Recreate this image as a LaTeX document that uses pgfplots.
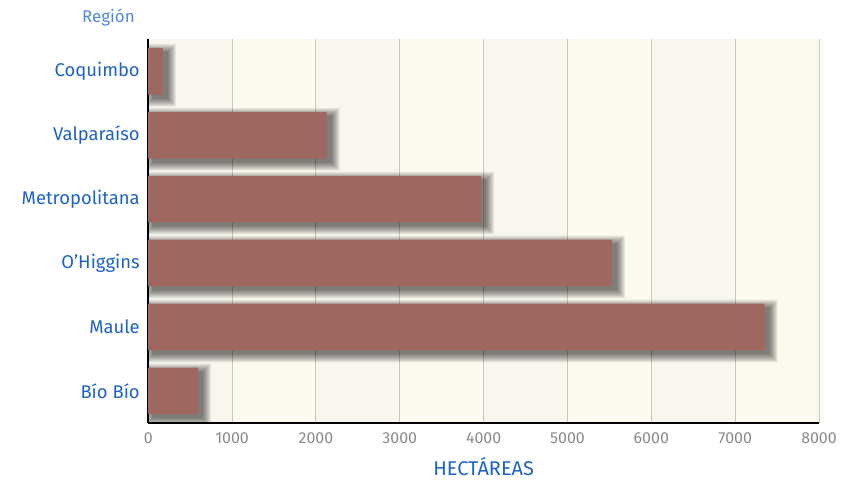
\documentclass[border=0pt]{standalone}
\usepackage{pgfplots}
\usepackage{pgfplotstable}
\pgfplotsset{compat=1.18}
\usepackage{fontspec}
\setmainfont{Fira Sans}
\definecolor{barcol}{HTML}{9E6861}
\definecolor{lblue}{HTML}{1C63C2}
\definecolor{rblue}{HTML}{4C8BD6}
\definecolor{tickgray}{HTML}{8A8A8A}
\definecolor{gridgray}{HTML}{C9C5BF}
\definecolor{bandA}{HTML}{F9F6F0}
\definecolor{bandB}{HTML}{FCF9EE}

% hectareas por region (0 = Coquimbo ... 5 = Bio Bio)
\pgfplotstableread{
i v
0 175
1 2127
2 3969
3 5529
4 7350
5 592
}\hectareas

% soft shadow: one translucent layer, #1 = spread in bp, #2 = same spread in data units
\newcommand{\shadowlayer}[2]{%
  \addplot[forget plot, fill=black, fill opacity=0.07, draw=none,
    bar shift=0pt, bar width=46.7bp+2*#1bp, xshift=5bp-#1bp, yshift=-4bp]
    table[x expr=\thisrow{v}+2*#2, y=i] {\hectareas};
}

\begin{document}
\begin{tikzpicture}
  \begin{axis}[
      set layers,
      scale only axis,
      width=671bp, height=383.7bp,
      xbar,
      xmin=0, xmax=8000,
      ymin=-0.5, ymax=5.5,
      y dir=reverse,
      ytick={0,1,2,3,4,5},
      yticklabels={Coquimbo, Valparaíso, Metropolitana, O'Higgins, Maule, Bío Bío},
      xtick={0,1000,...,8000},
      scaled ticks=false,
      x tick label style={
        /pgf/number format/.cd,
        1000 sep={},
        assume math mode=true,
        /tikz/.cd,
        font=\fontsize{16}{19}\selectfont, text=tickgray, yshift=-6bp},
      y tick label style={font=\fontsize{18.5}{22}\selectfont, text=lblue, xshift=-5bp},
      major tick length=0pt,
      axis x line*=bottom,
      axis y line*=left,
      axis line style={black, line width=1.6bp},
      xmajorgrids,
      major grid style={gridgray, line width=1bp},
      xlabel={HECTÁREAS},
      xlabel style={font=\fontsize{20}{24}\selectfont, text=lblue, yshift=-7bp},
    ]
    \begin{pgfonlayer}{axis background}
      \fill[bandA] (axis cs:0,-0.5) rectangle (axis cs:1000,5.5);
      \fill[bandB] (axis cs:1000,-0.5) rectangle (axis cs:2000,5.5);
      \fill[bandA] (axis cs:2000,-0.5) rectangle (axis cs:3000,5.5);
      \fill[bandB] (axis cs:3000,-0.5) rectangle (axis cs:4000,5.5);
      \fill[bandA] (axis cs:4000,-0.5) rectangle (axis cs:5000,5.5);
      \fill[bandB] (axis cs:5000,-0.5) rectangle (axis cs:6000,5.5);
      \fill[bandA] (axis cs:6000,-0.5) rectangle (axis cs:7000,5.5);
      \fill[bandB] (axis cs:7000,-0.5) rectangle (axis cs:8000,5.5);
    \end{pgfonlayer}
    \shadowlayer{0}{0}
    \shadowlayer{1}{11.9}
    \shadowlayer{2}{23.8}
    \shadowlayer{3}{35.8}
    \shadowlayer{4}{47.7}
    \shadowlayer{5}{59.6}
    \shadowlayer{6}{71.5}
    \shadowlayer{7}{83.4}
    \shadowlayer{8}{95.4}
    \addplot[fill=barcol, draw=none, bar shift=0pt, bar width=46.7bp]
      table[x=v, y=i] {\hectareas};
    \coordinate (SW) at (axis cs:0,5.5);
    \coordinate (NE) at (axis cs:8000,-0.5);
    \coordinate (NW) at (axis cs:0,-0.5);
  \end{axis}
  \node[anchor=east, font=\fontsize{17}{20}\selectfont, text=rblue]
    at ([xshift=-10bp, yshift=22bp]NW) {Región};
  \pgfresetboundingbox
  \path[use as bounding box] ([xshift=-148.3bp, yshift=-56.3bp]SW) rectangle ([xshift=24bp, yshift=39.3bp]NE);
\end{tikzpicture}
\end{document}
